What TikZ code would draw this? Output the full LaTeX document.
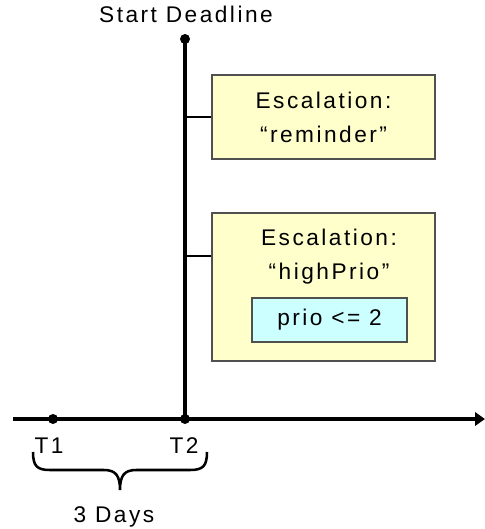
\documentclass[tikz,border=0pt]{standalone}
\usepackage{fontspec}
\setmainfont[LetterSpace=11]{Liberation Sans}
\usetikzlibrary{positioning, arrows.meta}

\definecolor{escfill}{HTML}{FFFFCC}
\definecolor{condfill}{HTML}{CCFFFF}
\definecolor{boxline}{HTML}{505050}

\begin{document}
\begin{tikzpicture}[x=0.75pt,y=-0.75pt,
  font=\fontsize{17}{25.5}\selectfont,
  esc/.style={draw=boxline, fill=escfill, line width=0.9pt, inner sep=0pt,
    minimum width=167.25pt, align=center},
  cond/.style={draw=boxline, fill=condfill, line width=0.9pt, inner sep=0pt,
    minimum width=116.25pt, minimum height=33pt},
  evt/.style={circle, fill=black, inner sep=0pt, minimum size=7.5pt},
  lbl/.style={anchor=base, inner sep=0pt},
  txt/.style={inner sep=0pt, align=center},
  axis/.style={line width=2.4pt, -{Triangle[length=7.5pt,width=10pt]}},
  conn/.style={line width=1pt}]
  \useasboundingbox (0,0) rectangle (485,529);

  \coordinate (axl) at (13,419);
  \coordinate (axr) at (485,419);
  \coordinate (c1) at (185,117);
  \coordinate (c2) at (185,256);

  \node[esc, minimum height=63pt] (remind) at (323.5,117) {Escalation:\\“reminder”};
  \node[esc, minimum height=111pt] (high) at (323.5,287) {};
  \node[txt] (highlbl) at (329,257) {Escalation:\\“highPrio”};
  \node[cond] (prio) at (329.5,320) {prio <= 2};

  \draw[axis] (axl) -- (axr);
  \draw[line width=2.4pt] (185,39) -- (185,419);
  \draw[conn] (c1) -- (remind.west);
  \draw[conn] (c2) -- (c2 -| high.west);

  \node[evt] (start) at (185,39) {};
  \node[evt] (t1) at (53,419) {};
  \node[evt] (t2) at (185,419) {};

  \node[lbl] (startlbl) at (186,22) {Start Deadline};
  \node[lbl] (t1lbl) at (49,453) {T1};
  \node[lbl] (t2lbl) at (184,453) {T2};

  % brace over T1..T2
  \draw[line width=1.9pt] (33,452) .. controls (33,466) and (37,470) .. (50,470)
    -- (104,470) .. controls (116,470) and (120,476) .. (120,490)
    .. controls (120,476) and (124,470) .. (136,470) -- (190,470)
    .. controls (203,470) and (207,466) .. (207,452);
  \node[lbl] (days) at (114,522) {3 Days};
\end{tikzpicture}
\end{document}
